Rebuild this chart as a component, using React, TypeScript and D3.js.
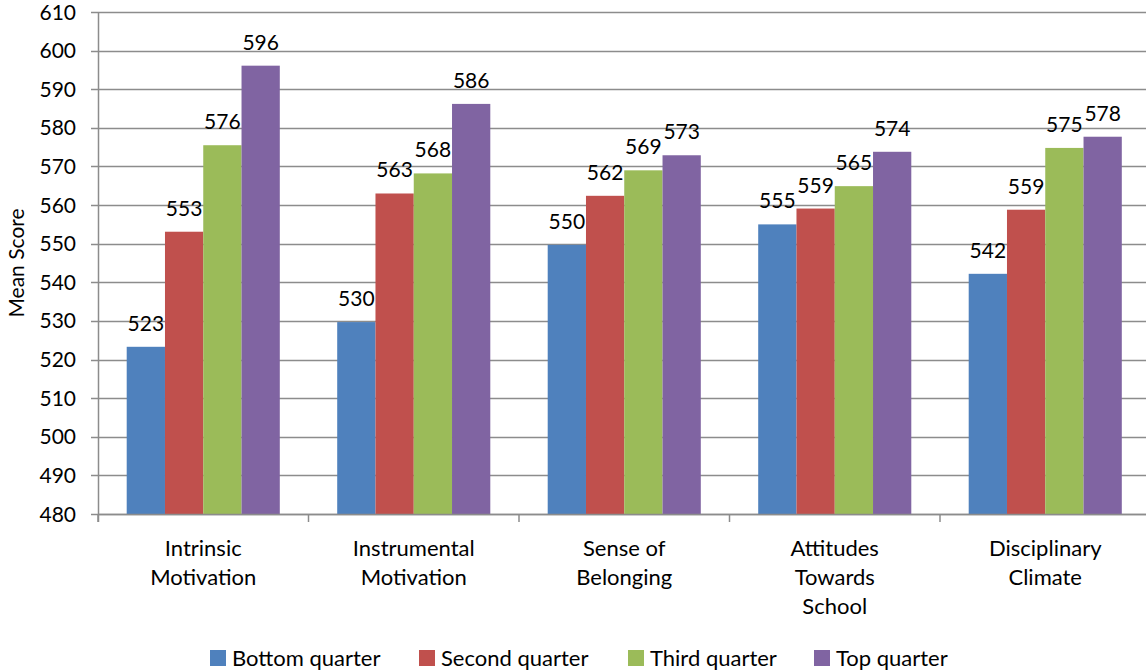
import React from "react";
import * as d3 from "d3";

const categories: string[][] = [
  ["Intrinsic", "Motivation"],
  ["Instrumental", "Motivation"],
  ["Sense of", "Belonging"],
  ["Attitudes", "Towards", "School"],
  ["Disciplinary", "Climate"],
];
const seriesNames = ["Bottom quarter", "Second quarter", "Third quarter", "Top quarter"];
const seriesColors = ["#4F81BD", "#C0504D", "#9BBB59", "#8064A2"];
const bottomQuarter = [523.3, 529.7, 549.7, 555.0, 542.2];
const secondQuarter = [553.1, 563.0, 562.4, 559.1, 558.8];
const thirdQuarter = [575.5, 568.2, 569.0, 564.9, 574.8];
const topQuarter = [596.1, 586.2, 572.9, 573.8, 577.7];
const yTicks = [480, 490, 500, 510, 520, 530, 540, 550, 560, 570, 580, 590, 600, 610];

const series = [bottomQuarter, secondQuarter, thirdQuarter, topQuarter];

const W = 1146;
const H = 671;
const FONT = "Lato, 'Open Sans', sans-serif";

export default function App() {
  const left = 98;
  const right = 1150.5;
  const top = 12;
  const bottom = 514;

  const y = d3.scaleLinear().domain([480, 610]).range([bottom, top]);
  const x0 = d3
    .scaleBand<number>()
    .domain(d3.range(categories.length))
    .range([left, right])
    .paddingInner(0)
    .paddingOuter(0);
  const bw = x0.bandwidth();
  const x1 = d3
    .scaleBand<number>()
    .domain(d3.range(series.length))
    .range([0, bw])
    .paddingInner(0)
    .paddingOuter(0.75);

  const legendX = [210, 419, 628, 814];

  return (
    <svg
      width={W}
      height={H}
      style={{ position: "absolute", left: 0, top: 0, background: "#fff" }}
      fontFamily={FONT}
    >
      {yTicks.map((t) => (
        <line
          key={"g" + t}
          x1={left - 7}
          x2={W}
          y1={Math.round(y(t)) + 0.5}
          y2={Math.round(y(t)) + 0.5}
          stroke="#8c8c8c"
          strokeWidth={1.3}
        />
      ))}
      {yTicks.map((t) => (
        <text
          key={"t" + t}
          x={76}
          y={y(t)}
          dy="0.36em"
          textAnchor="end"
          fontSize={21}
          fill="#000"
        >
          {t}
        </text>
      ))}
      {categories.map((_, ci) =>
        series.map((vals, si) => {
          const bx = (x0(ci) as number) + (x1(si) as number);
          const v = vals[ci];
          return (
            <g key={`b${ci}-${si}`}>
              <rect
                x={bx}
                y={y(v)}
                width={x1.bandwidth()}
                height={y(480) - y(v)}
                fill={seriesColors[si]}
              />
              <text
                x={bx + x1.bandwidth() / 2}
                y={y(v) - 16}
                textAnchor="middle"
                fontSize={21}
                fill="#000"
              >
                {Math.round(v)}
              </text>
            </g>
          );
        })
      )}
      <line x1={left + 0.5} x2={left + 0.5} y1={top} y2={bottom + 8} stroke="#8c8c8c" strokeWidth={1.5} />
      <line x1={left} x2={W} y1={Math.round(bottom) + 0.5} y2={Math.round(bottom) + 0.5} stroke="#8c8c8c" strokeWidth={1.5} />
      {d3.range(categories.length + 1).map((i) => {
        const xx = left + i * bw;
        return (
          <line key={"xt" + i} x1={xx} x2={xx} y1={bottom} y2={bottom + 8} stroke="#8c8c8c" strokeWidth={1.5} />
        );
      })}
      {categories.map((lines, ci) => (
        <text
          key={"c" + ci}
          x={(x0(ci) as number) + bw / 2}
          y={556}
          textAnchor="middle"
          fontSize={22}
          fill="#000"
        >
          {lines.map((l, li) => (
            <tspan key={li} x={(x0(ci) as number) + bw / 2} dy={li === 0 ? 0 : 29}>
              {l}
            </tspan>
          ))}
        </text>
      ))}
      <text
        transform={`translate(24, ${(top + bottom) / 2}) rotate(-90)`}
        textAnchor="middle"
        fontSize={21}
        fill="#000"
      >
        Mean Score
      </text>
      {seriesNames.map((n, i) => (
        <g key={"l" + i}>
          <rect x={legendX[i]} y={650} width={16} height={16} fill={seriesColors[i]} />
          <text x={legendX[i] + 22} y={666} fontSize={22} fill="#000">
            {n}
          </text>
        </g>
      ))}
    </svg>
  );
}
